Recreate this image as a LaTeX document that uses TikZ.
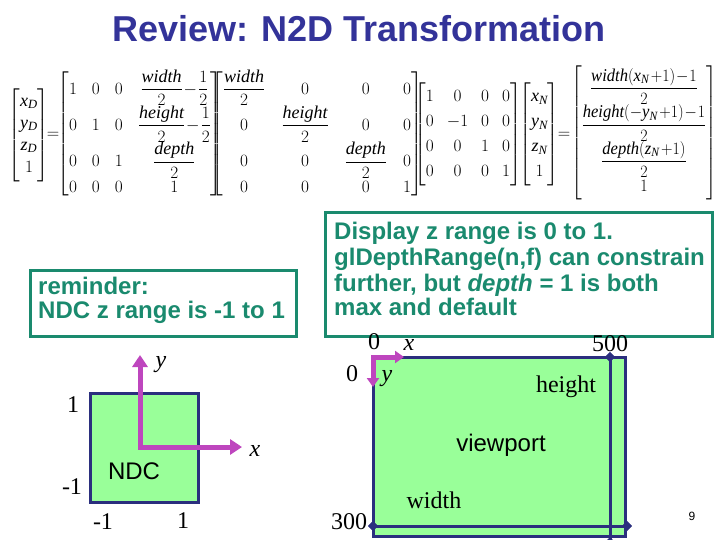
\documentclass[tikz,border=0pt]{standalone}
\usepackage{amsmath}
\usepackage{fontspec}
\setmainfont{Liberation Serif}
\setmathrm{Liberation Serif}
\newfontfamily\arial{Liberation Sans}
\usetikzlibrary{arrows.meta,shapes.geometric}
\definecolor{titleblue}{RGB}{51,51,153}
\definecolor{tealc}{RGB}{26,138,110}
\definecolor{navyc}{RGB}{43,47,126}
\definecolor{greenc}{RGB}{153,255,153}
\definecolor{magc}{RGB}{190,70,190}
\newcommand\mi[1]{\mathit{#1}}
\newcommand\eqfont{\fontsize{18}{20}\selectfont}
\newcommand\tp{\mkern2mu{+}}
\newcommand\tm{\mkern1mu{-}\mkern1mu}
\begin{document}
\begin{tikzpicture}[x=1pt,y=-1pt,
  lbl/.style={font=\fontsize{24}{26}\selectfont, inner sep=0pt},
  ilbl/.style={font=\itshape\fontsize{24}{26}\selectfont, inner sep=0pt},
  sanslbl/.style={font=\arial\fontsize{24}{26}\selectfont, inner sep=0pt},
  boxtxt/.style={font=\arial\bfseries\fontsize{24}{26}\selectfont, text=tealc, anchor=base west, inner sep=0pt},
  tealbox/.style={draw=tealc, line width=3pt},
  greenbox/.style={fill=greenc, draw=navyc, line width=3pt},
  axisbig/.style={draw=magc, line width=5pt, line join=miter,
     {Triangle[width=15pt,length=12pt]}-{Triangle[width=15pt,length=12pt]}},
  axissmall/.style={draw=magc, line width=5pt, line join=miter,
     {Triangle[width=12pt,length=9pt]}-{Triangle[width=12pt,length=9pt]}},
  dimline/.style={draw=navyc, line width=3pt},
  diam/.style={diamond, fill=navyc, inner sep=0pt, minimum size=10pt},
  eqn/.style={font=\eqfont, inner sep=0pt}
]
\useasboundingbox (0,0) rectangle (720,540);

% title
\node[font=\arial\bfseries\fontsize{36}{40}\selectfont, text=titleblue, anchor=base, inner sep=0pt] (title) at (359,42) {Review: N2D Transformation};

% equation
\node[eqn] (vD) at (29,135) {$\renewcommand\arraystretch{1.1}\begin{bmatrix}\mi{x}_{\mi{D}}\\ \mi{y}_{\mi{D}}\\ \mi{z}_{\mi{D}}\\ 1\end{bmatrix}$};
\node[eqn] (eqA) at (53,135) {$=$};
\node[eqn] (M1) at (140,134) {$\setlength\arraycolsep{7.5pt}\begin{bmatrix} 1&0&0&\dfrac{\mi{width}}{2}\tm\dfrac{1}{2}\\[4pt] 0&1&0&\dfrac{\mi{height}}{2}\tm\dfrac{1}{2}\\[3pt] 0&0&1&\dfrac{\mi{depth}}{2}\\ 0&0&0&1\end{bmatrix}$};
\node[eqn] (M2) at (317,134) {$\setlength\arraycolsep{8pt}\begin{bmatrix}\dfrac{\mi{width}}{2}&0&0&0\\[4pt] 0&\dfrac{\mi{height}}{2}&0&0\\[3pt] 0&0&\dfrac{\mi{depth}}{2}&0\\ 0&0&0&1\end{bmatrix}$};
\node[eqn] (M3) at (468,134.5) {$\setlength\arraycolsep{6.5pt}\renewcommand\arraystretch{1.25}\begin{bmatrix}1&0&0&0\\ 0&-1&0&0\\ 0&0&1&0\\ 0&0&0&1\end{bmatrix}$};
\node[eqn] (vN) at (539.5,134.5) {$\renewcommand\arraystretch{1.25}\begin{bmatrix}\mi{x}_{\mi{N}}\\ \mi{y}_{\mi{N}}\\ \mi{z}_{\mi{N}}\\ 1\end{bmatrix}$};
\node[eqn] (eqB) at (564,135) {$=$};
\node[eqn, xscale=0.92] (R) at (644,133) {$\begin{bmatrix}\dfrac{\mi{width}(\mi{x}_{\mi{N}}\tp1)\tm1}{2}\\ \dfrac{\mi{height}(-\mi{y}_{\mi{N}}\tp1)\tm1}{2}\\ \dfrac{\mi{depth}(\mi{z}_{\mi{N}}\tp1)}{2}\\ 1\end{bmatrix}$};

% reminder box
\draw[tealbox] (30,270) rectangle (296,336);
\node[boxtxt] (r1) at (38,294) {reminder:};
\node[boxtxt] (r2) at (38,318) {NDC z range is -1 to 1};

% display box
\draw[tealbox] (325,213) rectangle (712,336);
\node[boxtxt] (d1) at (334,240) {Display z range is 0 to 1.};
\node[boxtxt] (d2) at (334,265) {glDepthRange(n,f) can constrain};
\node[boxtxt] (d3) at (334,291) {further, but \textit{depth} = 1 is both};
\node[boxtxt] (d4) at (334,315) {max and default};

% NDC square
\path[greenbox] (90,393) rectangle (198,502);
\coordinate (ndco) at (140,447);
\coordinate (ndcy) at (140,355);
\coordinate (ndcx) at (242,447);
\draw[axisbig] (ndcy) -- (ndco) -- (ndcx);
\node[ilbl] (ly) at (161,365) {y};
\node[ilbl] (lx) at (255,451) {x};
\node[lbl] (l1a) at (73,405) {1};
\node[lbl] (lm1a) at (72,487) {-1};
\node[lbl] (lm1b) at (103,522) {-1};
\node[lbl] (l1b) at (183,521) {1};
\node[sanslbl] (ndc) at (134,471) {NDC};

% viewport
\path[greenbox] (373,357) rectangle (625,536);
\node[diam] (wl) at (373,526) {};
\node[diam] (wr) at (627,526) {};
\node[diam] (ht) at (610,357) {};
\node[diam] (hb) at (610,542) {};
\draw[dimline] (wl.center) -- (wr.center);
\draw[dimline] (ht.center) -- (hb.center);
\node[diam] at (wl) {};
\node[diam] at (wr) {};
\node[diam] at (ht) {};
\coordinate (vpo) at (373,357);
\coordinate (vpx) at (404,357);
\coordinate (vpy) at (373,387);
\draw[axissmall] (vpy) -- (vpo) -- (vpx);
\node[lbl] (v0a) at (374,342) {0};
\node[ilbl] (vx) at (409,345) {x};
\node[lbl] (v0b) at (352,374) {0};
\node[ilbl] (vy) at (387,379) {y};
\node[lbl] (v500) at (610,344) {500};
\node[lbl] (vh) at (566,387) {height};
\node[sanslbl] (vp) at (501,445) {viewport};
\node[lbl] (vw) at (434,500) {width};
\node[lbl] (v300) at (349,522) {300};
\node[font=\arial\fontsize{12}{14}\selectfont, inner sep=0pt] (pg) at (692,516) {9};
\end{tikzpicture}
\end{document}
